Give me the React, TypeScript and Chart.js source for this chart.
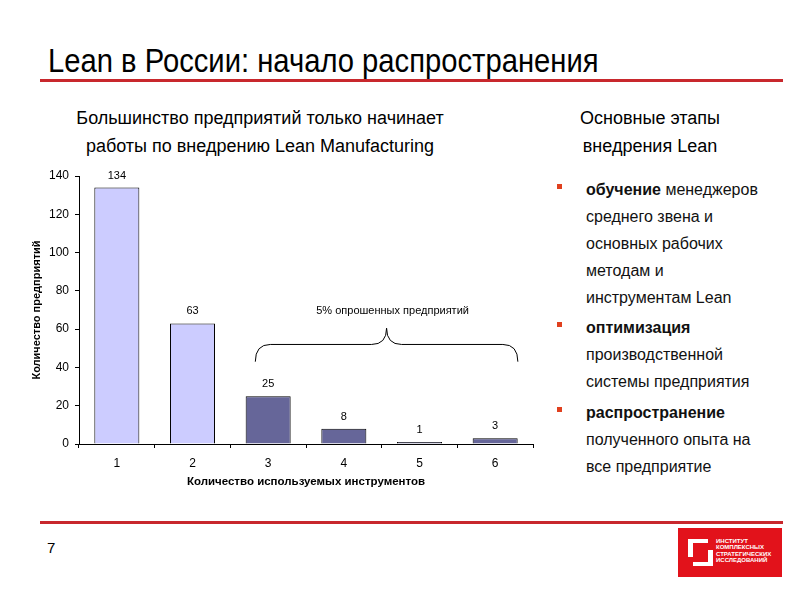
import React, { useEffect, useRef } from "react";
import { Chart, registerables } from "chart.js";

Chart.register(...registerables);

// ---- data ----
const categories = ["1", "2", "3", "4", "5", "6"];
const companyCounts = [134, 63, 25, 8, 1, 3];
const barColors = ["#CCCCFF", "#CCCCFF", "#666699", "#666699", "#666699", "#666699"];
const yMin = 0;
const yMax = 140;
const yStep = 20;
const xTitle = "Количество используемых инструментов";
const yTitle = "Количество предприятий";
const noteText = "5% опрошенных предприятий";
// brace annotation in data units (category index / value)
const braceFrom = 1.83;
const braceTo = 5.3;
const braceLow = 43;
const braceMid = 52;
const braceTip = 60.5;
const noteValue = 69.5;

const slideTitle = "Lean в России: начало распространения";
const leftHeading = ["Большинство предприятий только начинает", "работы по внедрению Lean Manufacturing"];
const rightHeading = ["Основные этапы", "внедрения Lean"];
const bullets: { bold: string; lines: string[] }[] = [
  { bold: "обучение", lines: [" менеджеров", "среднего звена и", "основных рабочих", "методам и", "инструментам Lean"] },
  { bold: "оптимизация", lines: ["", "производственной", "системы предприятия"] },
  { bold: "распространение", lines: ["", "полученного опыта на", "все предприятие"] },
];
const logoLines = ["ИНСТИТУТ", "КОМПЛЕКСНЫХ", "СТРАТЕГИЧЕСКИХ", "ИССЛЕДОВАНИЙ"];

const FONT = '"Liberation Sans", Arial, sans-serif';
const RED = "#C8282D";

const overlayPlugin = {
  id: "overlay",
  afterDatasetsDraw(chart: any) {
    const { ctx, scales } = chart;
    const x = scales.x;
    const y = scales.y;
    const meta = chart.getDatasetMeta(0);
    ctx.save();
    ctx.fillStyle = "#000";
    ctx.strokeStyle = "#000";
    ctx.lineWidth = 1;
    ctx.font = `11px ${FONT}`;
    ctx.textAlign = "center";
    ctx.textBaseline = "middle";
    meta.data.forEach((bar: any, i: number) => {
      ctx.fillText(String(companyCounts[i]), bar.x, bar.y - 12);
    });
    const xl = x.getPixelForValue(braceFrom);
    const xr = x.getPixelForValue(braceTo);
    const xm = (xl + xr) / 2;
    const yLow = y.getPixelForValue(braceLow);
    const yMidP = y.getPixelForValue(braceMid);
    const yTipP = y.getPixelForValue(braceTip);
    const r = 15;
    ctx.beginPath();
    ctx.moveTo(xl, yLow);
    ctx.quadraticCurveTo(xl, yMidP, xl + r, yMidP);
    ctx.lineTo(xm - r, yMidP);
    ctx.quadraticCurveTo(xm, yMidP, xm, yTipP);
    ctx.quadraticCurveTo(xm, yMidP, xm + r, yMidP);
    ctx.lineTo(xr - r, yMidP);
    ctx.quadraticCurveTo(xr, yMidP, xr, yLow);
    ctx.stroke();
    ctx.font = `11px ${FONT}`;
    ctx.fillText(noteText, xm + 6, y.getPixelForValue(noteValue));
    ctx.restore();
  },
};

function BarChart() {
  const ref = useRef<HTMLCanvasElement>(null);
  useEffect(() => {
    if (!ref.current) return;
    const chart = new Chart(ref.current, {
      type: "bar",
      data: {
        labels: categories,
        datasets: [
          {
            data: companyCounts,
            backgroundColor: barColors,
            borderColor: "#000",
            borderWidth: 1,
            categoryPercentage: 1,
            barPercentage: 0.595,
          },
        ],
      },
      options: {
        responsive: false,
        animation: false,
        layout: { padding: { top: 16, right: 17, left: 0, bottom: 0 } },
        plugins: { legend: { display: false }, tooltip: { enabled: false } },
        scales: {
          x: {
            grid: { display: true, drawOnChartArea: false, drawTicks: true, tickLength: 4, color: "#000", offset: true },
            border: { display: true, color: "#000", width: 1 },
            ticks: { color: "#000", font: { size: 12, family: FONT }, padding: 8 },
            title: {
              display: true,
              text: xTitle,
              color: "#000",
              font: { size: 11.5, weight: "bold", family: FONT },
              padding: { top: 0, bottom: 11 },
            },
            afterFit: (s: any) => {
              s.height = 56;
            },
          },
          y: {
            min: yMin,
            max: yMax,
            ticks: { stepSize: yStep, color: "#000", font: { size: 12, family: FONT }, padding: 6 },
            grid: { drawOnChartArea: false, drawTicks: true, tickLength: 4, color: "#000" },
            border: { display: true, color: "#000", width: 1 },
            title: {
              display: true,
              text: yTitle,
              color: "#000",
              font: { size: 11, weight: "bold", family: FONT },
              padding: { top: 10, bottom: 0 },
            },
            afterFit: (s: any) => {
              s.width = 59;
            },
          },
        },
      },
      plugins: [overlayPlugin],
    });
    return () => chart.destroy();
  }, []);
  return (
    <canvas
      ref={ref}
      width={530}
      height={340}
      style={{ position: "absolute", left: 20, top: 160, width: 530, height: 340 }}
    />
  );
}

export default function App() {
  const bulletTops = [190, 328, 413];
  return (
    <div
      style={{
        position: "absolute",
        left: 0,
        top: 0,
        width: 800,
        height: 600,
        background: "#fff",
        overflow: "hidden",
        fontFamily: FONT,
        color: "#000",
      }}
    >
      <div
        style={{
          position: "absolute",
          left: 48,
          top: 44,
          fontSize: 33,
          lineHeight: "33px",
          whiteSpace: "nowrap",
          transform: "scaleX(0.885)",
          transformOrigin: "left top",
        }}
      >
        {slideTitle}
      </div>
      <div style={{ position: "absolute", left: 40, top: 79, width: 743, height: 3, background: RED }} />

      {leftHeading.map((t, i) => (
        <div
          key={i}
          style={{
            position: "absolute",
            left: 60,
            width: 400,
            top: 108 + i * 28,
            textAlign: "center",
            fontSize: 18,
            lineHeight: "20px",
            whiteSpace: "nowrap",
          }}
        >
          {t}
        </div>
      ))}
      {rightHeading.map((t, i) => (
        <div
          key={i}
          style={{
            position: "absolute",
            left: 550,
            width: 200,
            top: 108 + i * 28,
            textAlign: "center",
            fontSize: 18,
            lineHeight: "20px",
            whiteSpace: "nowrap",
          }}
        >
          {t}
        </div>
      ))}

      <BarChart />

      {bullets.map((b, bi) => (
        <React.Fragment key={bi}>
          <div
            style={{
              position: "absolute",
              left: 557,
              top: bulletTops[bi] - 6,
              width: 5,
              height: 5,
              background: "#E0401E",
            }}
          />
          {b.lines.map((l, li) => (
            <div
              key={li}
              style={{
                position: "absolute",
                left: 586,
                top: bulletTops[bi] - 10 + li * 27,
                fontSize: 16,
                lineHeight: "20px",
                whiteSpace: "nowrap",
                color: "#111",
              }}
            >
              {li === 0 ? (
                <>
                  <b>{b.bold}</b>
                  {l}
                </>
              ) : (
                l
              )}
            </div>
          ))}
        </React.Fragment>
      ))}

      <div style={{ position: "absolute", left: 40, top: 521, width: 743, height: 3, background: RED }} />
      <div style={{ position: "absolute", left: 47, top: 539, fontSize: 15, lineHeight: "18px" }}>7</div>

      <div style={{ position: "absolute", left: 678, top: 528, width: 104, height: 49, background: "#E2121B" }}>
        <div
          style={{
            position: "absolute",
            left: 10,
            top: 11,
            width: 15,
            height: 14,
            borderLeft: "5px solid #fff",
            borderTop: "4px solid #fff",
          }}
        />
        <div
          style={{
            position: "absolute",
            left: 15,
            top: 22,
            width: 15,
            height: 12,
            borderRight: "5px solid #fff",
            borderBottom: "4px solid #fff",
          }}
        />
        {logoLines.map((t, i) => (
          <div
            key={i}
            style={{
              position: "absolute",
              left: 38,
              top: 10 + i * 6.3,
              fontSize: 6,
              lineHeight: "6px",
              fontWeight: "bold",
              color: "#fff",
              whiteSpace: "nowrap",
            }}
          >
            {t}
          </div>
        ))}
      </div>
    </div>
  );
}
